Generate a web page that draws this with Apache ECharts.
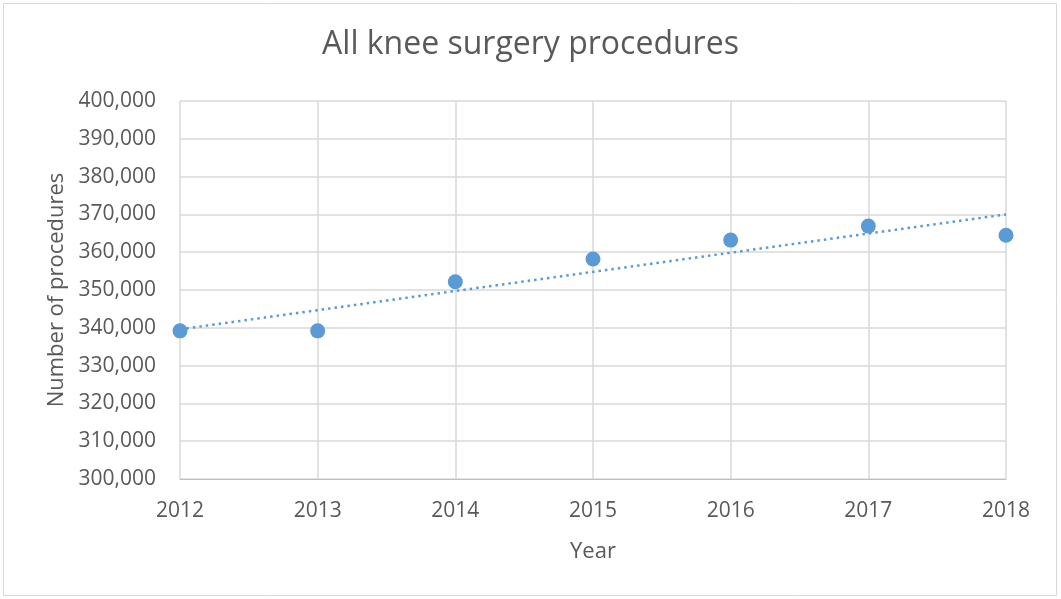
<!DOCTYPE html>
<html lang="en">
<head>
    <meta charset="UTF-8">
    <title>All knee surgery procedures</title>
    <style>
        html, body { margin: 0; padding: 0; background: #fff; }
        #chart { width: 1061px; height: 599px; }
    </style>
</head>
<body>
    <div id="chart"></div>

    <script src="https://cdn.jsdelivr.net/npm/echarts@6/dist/echarts.min.js"></script>
    <script>
        // values
        var years = [2012, 2013, 2014, 2015, 2016, 2017, 2018];
        var procedures = [339200, 339200, 352200, 358200, 363200, 366900, 364500];
        // linear trendline, end points as drawn
        var trendYears = [2012, 2018];
        var trendValues = [339600, 370000];

        var blue = '#5b9bd5';
        var textColor = '#595959';
        var font = '"Open Sans", "Liberation Sans", sans-serif';

        var myChart = echarts.init(document.getElementById('chart'));

        myChart.setOption({
            animation: false,
            title: {
                text: 'All knee surgery procedures',
                left: 'center',
                top: 24,
                textStyle: {
                    color: textColor,
                    fontFamily: font,
                    fontSize: 32,
                    fontWeight: 'normal'
                }
            },
            graphic: [{
                type: 'rect',
                shape: { x: 3.5, y: 3.5, width: 1053, height: 592 },
                style: { fill: 'none', stroke: '#d9d9d9', lineWidth: 1 },
                silent: true
            }],
            grid: {
                left: 180,
                right: 55,
                top: 101,
                bottom: 120
            },
            xAxis: {
                type: 'value',
                min: 2012,
                max: 2018,
                interval: 1,
                name: 'Year',
                nameLocation: 'middle',
                nameGap: 62,
                nameTextStyle: { color: textColor, fontFamily: font, fontSize: 22 },
                axisLine: { lineStyle: { color: '#bfbfbf', width: 1 } },
                axisTick: { show: false },
                axisLabel: {
                    color: textColor,
                    fontFamily: font,
                    fontSize: 21,
                    margin: 22,
                    formatter: function (v) { return String(v); }
                },
                splitLine: { show: true, lineStyle: { color: '#d9d9d9', width: 1.5 } }
            },
            yAxis: {
                type: 'value',
                min: 300000,
                max: 400000,
                interval: 10000,
                name: 'Number of procedures',
                nameLocation: 'middle',
                nameGap: 112,
                nameTextStyle: { color: textColor, fontFamily: font, fontSize: 22 },
                axisLine: { show: false },
                axisTick: { show: false },
                axisLabel: {
                    color: textColor,
                    fontFamily: font,
                    fontSize: 21,
                    margin: 24,
                    formatter: function (v) { return v.toLocaleString('en-US'); }
                },
                splitLine: { lineStyle: { color: '#d9d9d9', width: 1.5 } }
            },
            series: [
                {
                    name: 'Trend',
                    type: 'line',
                    data: trendYears.map(function (x, i) { return [x, trendValues[i]]; }),
                    showSymbol: false,
                    symbol: 'none',
                    lineStyle: { color: blue, width: 2.5, type: [2.5, 4] },
                    z: 2,
                    silent: true
                },
                {
                    name: 'Procedures',
                    type: 'scatter',
                    data: years.map(function (x, i) { return [x, procedures[i]]; }),
                    symbol: 'circle',
                    symbolSize: 15,
                    itemStyle: { color: blue, opacity: 1 },
                    z: 3
                }
            ]
        });
    </script>
</body>
</html>
